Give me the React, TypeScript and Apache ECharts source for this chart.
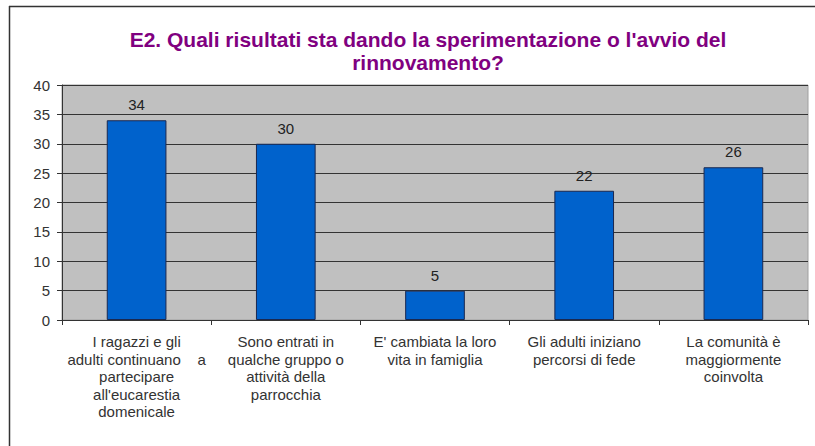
import React, { useEffect, useRef } from "react";
import * as echarts from "echarts";

const titleLines = ["E2. Quali risultati sta dando la sperimentazione o l'avvio del", "rinnovamento?"];
const categories = [
  "I ragazzi e gli\nadulti continuano    a\npartecipare\nall'eucarestia\ndomenicale",
  "Sono entrati in\nqualche gruppo o\nattività della\nparrocchia",
  "E' cambiata la loro\nvita in famiglia",
  "Gli adulti iniziano\npercorsi di fede",
  "La comunità è\nmaggiormente\ncoinvolta",
];
const values = [34, 30, 5, 22, 26];
const yMin = 0;
const yMax = 40;
const yStep = 5;

export default function App() {
  const ref = useRef<HTMLDivElement>(null);
  useEffect(() => {
    const chart = echarts.init(ref.current!, null, { renderer: "svg" });
    chart.setOption({
      animation: false,
      backgroundColor: "#ffffff",
      title: {
        text: titleLines.join("\n"),
        left: 423,
        textAlign: "center",
        top: 23,
        textStyle: {
          color: "#800080",
          fontFamily: "Liberation Sans",
          fontWeight: "bold",
          fontSize: 21,
          lineHeight: 23,
        },
      },
      graphic: [
        { type: "line", shape: { x1: 9, y1: 6.5, x2: 815, y2: 6.5 }, style: { stroke: "#333", lineWidth: 1.5 } },
        { type: "line", shape: { x1: 9.5, y1: 6, x2: 9.5, y2: 446 }, style: { stroke: "#333", lineWidth: 1.5 } },
      ],
      grid: { left: 62, right: 7, top: 85, bottom: 126, show: true, backgroundColor: "#c0c0c0", borderColor: "#a0a0a0", borderWidth: 1 },
      xAxis: {
        type: "category",
        data: categories,
        axisLine: { lineStyle: { color: "#333", width: 1 } },
        axisTick: { show: true, length: 5, lineStyle: { color: "#333" } },
        axisLabel: {
          interval: 0,
          color: "#333",
          fontFamily: "Liberation Sans",
          fontSize: 15,
          lineHeight: 17.5,
          margin: 13,
        },
      },
      yAxis: {
        type: "value",
        min: yMin,
        max: yMax,
        interval: yStep,
        axisLine: { show: true, lineStyle: { color: "#333", width: 1 } },
        axisTick: { show: true, length: 5, lineStyle: { color: "#333" } },
        splitLine: { show: true, lineStyle: { color: "#333", width: 1 } },
        axisLabel: { color: "#333", fontFamily: "Liberation Sans", fontSize: 15, margin: 12 },
      },
      series: [
        {
          type: "bar",
          data: values,
          barWidth: "40%",
          itemStyle: { color: "#0062cc", borderColor: "#1a2850", borderWidth: 1 },
          label: {
            show: true,
            position: "top",
            distance: 8,
            color: "#222",
            fontFamily: "Liberation Sans",
            fontSize: 15,
          },
        },
      ],
    });
    return () => chart.dispose();
  }, []);
  return <div ref={ref} style={{ width: 815, height: 446, position: "absolute", left: 0, top: 0 }} />;
}
